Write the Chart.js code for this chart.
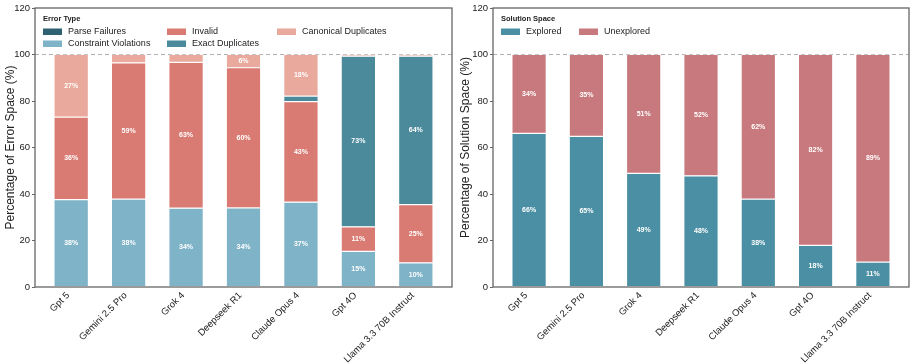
<!DOCTYPE html>
<html>
<head>
<meta charset="utf-8">
<script src="https://cdn.jsdelivr.net/npm/chart.js@4.4.1/dist/chart.umd.min.js"></script>
<style>
    html, body { margin: 0; padding: 0; background: #fff; }
    #wrap { position: relative; width: 914px; height: 363px; }
    .panel { position: absolute; top: 0; height: 363px; }
</style>
</head>
<body>
<div id="wrap">
    <div class="panel" style="left:0;width:455px"><canvas id="errorChart"></canvas></div>
    <div class="panel" style="left:455px;width:459px"><canvas id="solutionChart"></canvas></div>
</div>
<script>
const models = ["Gpt 5", "Gemini 2.5 Pro", "Grok 4", "Deepseek R1", "Claude Opus 4", "Gpt 4O", "Llama 3.3 70B Instruct"];
const yTicks = [0, 20, 40, 60, 80, 100, 120];

// error space breakdown (% of errors)
const parseFailures = [0, 0, 0, 0, 0, 0, 0];
const constraintViolations = [37.6, 37.8, 33.9, 34.0, 36.5, 15.3, 10.4];
const invalid = [35.5, 58.6, 62.7, 60.3, 43.2, 10.6, 25.0];
const exactDuplicates = [0, 0, 0, 0, 2.4, 73.4, 63.9];
const canonicalDuplicates = [26.9, 3.6, 3.4, 5.7, 17.9, 0.7, 0.7];

// solution space coverage
const explored = [66.1, 64.8, 48.9, 47.8, 37.8, 17.9, 10.7];
const unexplored = [33.9, 35.2, 51.1, 52.2, 62.2, 82.1, 89.3];

const FONT = "'Liberation Sans', Arial, sans-serif";

function toPoints(values) {
    return values.map((v, i) => ({ x: i, y: v }));
}

// value labels in the middle of each segment
const segmentLabels = {
    id: "segmentLabels",
    afterDatasetsDraw(chart) {
        const ctx = chart.ctx;
        ctx.save();
        ctx.font = "bold 7px " + FONT;
        ctx.fillStyle = "#ffffff";
        ctx.textAlign = "center";
        ctx.textBaseline = "middle";
        chart.data.datasets.forEach((ds, di) => {
            const meta = chart.getDatasetMeta(di);
            meta.data.forEach((bar, i) => {
                const v = ds.data[i].y;
                if (v < 5) return;
                ctx.fillText(Math.round(v) + "%", bar.x, (bar.y + bar.base) / 2);
            });
        });
        ctx.restore();
    }
};

// frame, dashed 100% line and legend inside the plot
const frameAndLegend = {
    id: "frameAndLegend",
    beforeDatasetsDraw(chart) {
        const ctx = chart.ctx;
        const area = chart.chartArea;
        const y100 = chart.scales.y.getPixelForValue(100);
        ctx.save();
        ctx.strokeStyle = "#b0b0b0";
        ctx.lineWidth = 1;
        ctx.setLineDash([4, 3]);
        ctx.beginPath();
        ctx.moveTo(area.left, y100);
        ctx.lineTo(area.right, y100);
        ctx.stroke();
        ctx.restore();
    },
    afterDraw(chart, args, opts) {
        const ctx = chart.ctx;
        const area = chart.chartArea;
        ctx.save();
        ctx.strokeStyle = "#666666";
        ctx.lineWidth = 1.3;
        ctx.strokeRect(area.left, area.top, area.right - area.left, area.bottom - area.top);

        const x0 = area.left + opts.dx;
        ctx.fillStyle = "#222";
        ctx.font = "bold 7.5px " + FONT;
        ctx.textBaseline = "middle";
        ctx.textAlign = "left";
        ctx.fillText(opts.title, x0, area.top + 11);

        ctx.font = "9px " + FONT;
        chart.data.datasets.forEach((ds, i) => {
            const col = Math.floor(i / opts.rows);
            const row = i % opts.rows;
            const x = x0 + opts.colWidths.slice(0, col).reduce((a, b) => a + b, 0);
            const y = area.top + 23.5 + row * 12;
            ctx.fillStyle = ds.backgroundColor;
            ctx.fillRect(x, y - 3, 19, 6.5);
            ctx.fillStyle = "#222";
            ctx.fillText(ds.label, x + 25, y);
        });
        ctx.restore();
    }
};

function makeChart(canvasId, datasets, yTitle, axisWidth, padRight, legendOpts) {
    return new Chart(document.getElementById(canvasId), {
        type: "bar",
        data: {
            datasets: datasets.map(d => ({
                label: d.label,
                data: toPoints(d.values),
                backgroundColor: d.color,
                borderColor: "#ffffff",
                borderWidth: 0.6,
                borderSkipped: false,
                barPercentage: 1,
                categoryPercentage: 0.6
            }))
        },
        options: {
            responsive: true,
            maintainAspectRatio: false,
            animation: false,
            layout: { padding: { top: 8, right: padRight, left: 0, bottom: 0 } },
            plugins: {
                legend: { display: false },
                tooltip: { enabled: false },
                frameAndLegend: legendOpts
            },
            scales: {
                x: {
                    type: "linear",
                    stacked: true,
                    offset: false,
                    min: -0.63,
                    max: 6.63,
                    afterBuildTicks: scale => {
                        scale.ticks = models.map((m, i) => ({ value: i }));
                    },
                    afterFit: scale => { scale.height = 76; },
                    ticks: {
                        autoSkip: false,
                        minRotation: 45,
                        maxRotation: 45,
                        padding: -5,
                        labelOffset: -3,
                        color: "#222",
                        font: { family: FONT, size: 9.5 },
                        callback: v => models[v]
                    },
                    grid: { display: false },
                    border: { display: false }
                },
                y: {
                    stacked: true,
                    min: 0,
                    max: 120,
                    afterBuildTicks: scale => {
                        scale.ticks = yTicks.map(v => ({ value: v }));
                    },
                    afterFit: scale => { scale.width = axisWidth; },
                    ticks: {
                        color: "#222",
                        padding: 2,
                        font: { family: FONT, size: 9.5 }
                    },
                    grid: { drawOnChartArea: false, drawTicks: true, tickLength: 3, color: "#666" },
                    border: { display: false },
                    title: {
                        display: true,
                        text: yTitle,
                        color: "#222",
                        padding: { top: 3, bottom: 0 },
                        font: { family: FONT, size: 12 }
                    }
                }
            }
        },
        plugins: [frameAndLegend, segmentLabels]
    });
}

makeChart("errorChart", [
    { label: "Parse Failures", values: parseFailures, color: "#2e6172" },
    { label: "Constraint Violations", values: constraintViolations, color: "#7fb3c8" },
    { label: "Invalid", values: invalid, color: "#d97b72" },
    { label: "Exact Duplicates", values: exactDuplicates, color: "#4a8a9b" },
    { label: "Canonical Duplicates", values: canonicalDuplicates, color: "#e9a99c" }
], "Percentage of Error Space (%)", 35, 3,
   { title: "Error Type", dx: 8, rows: 2, colWidths: [124, 110, 110] });

makeChart("solutionChart", [
    { label: "Explored", values: explored, color: "#4a8fa3" },
    { label: "Unexplored", values: unexplored, color: "#c8797d" }
], "Percentage of Solution Space (%)", 38, 5,
   { title: "Solution Space", dx: 8, rows: 1, colWidths: [78, 78] });
</script>
</body>
</html>
